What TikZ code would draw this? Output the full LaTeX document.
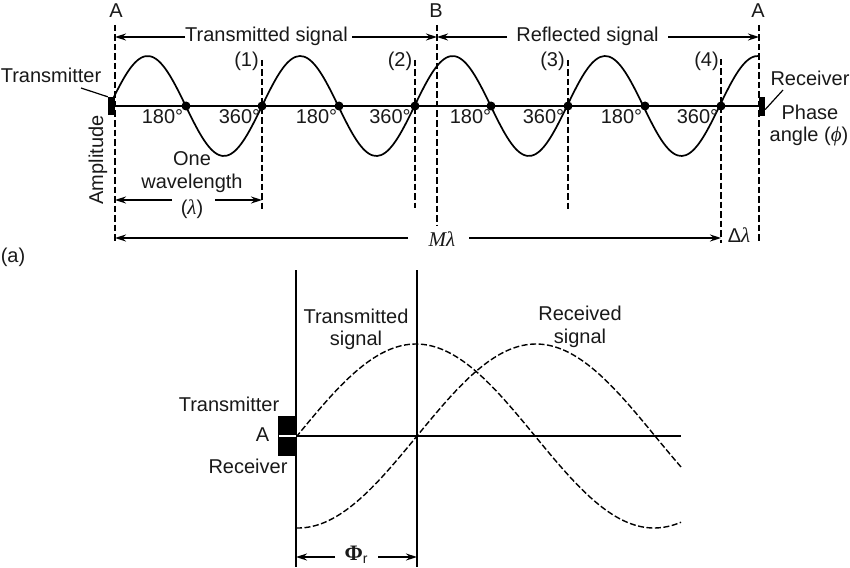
\documentclass[tikz,border=0pt]{standalone}
\usepackage{fontspec}
\setmainfont{Liberation Sans}
\newfontfamily\greekit[Scale=1.05]{Liberation Serif}
\usetikzlibrary{arrows.meta}
\newcommand{\gi}[1]{{\greekit\itshape #1}}
\tikzset{
  lbl/.style={inner sep=0pt,font=\fontsize{20}{23}\selectfont,text=black!90},
  sline/.style={line width=1.8pt,black},
  vdash/.style={line width=1.6pt,black,dash pattern=on 6.5pt off 3pt},
  wave/.style={line width=1.7pt,black,line join=round},
  dwave/.style={line width=1.4pt,black,dash pattern=on 6pt off 2.5pt},
  dim/.style={line width=1.5pt,black,-{Stealth[length=11pt,width=7pt]}},
  blk/.style={fill=black,draw=none},
  dot/.style={circle,fill=black,inner sep=0pt,minimum size=9pt}
}
\begin{document}
\begin{tikzpicture}[x=1pt,y=-1pt]
\useasboundingbox (0,0) rectangle (850,567);
% ---- upper panel ----
\coordinate (Atop) at (115,25); \coordinate (Abot) at (115,243);
\coordinate (Btop) at (437,25); \coordinate (Bbot) at (437,225);
\coordinate (Rtop) at (759,25); \coordinate (Rbot) at (759,243);
\coordinate (c1t) at (262,60); \coordinate (c1b) at (262,209);
\coordinate (c2t) at (415,60); \coordinate (c2b) at (415,208);
\coordinate (c3t) at (568,60); \coordinate (c3b) at (568,209);
\coordinate (c4t) at (721,59); \coordinate (c4b) at (721,243);
\coordinate (axL) at (115,106); \coordinate (axR) at (759,106);
\draw[sline] (axL) -- (axR);
\draw[wave] plot[domain=113:759,samples=160,smooth] (\x,{106-50*sin((\x-109.5)/152.5*360)});
\draw[vdash] (Atop) -- (Abot);
\draw[vdash] (Btop) -- (Bbot);
\draw[vdash] (Rtop) -- (Rbot);
\draw[vdash] (c1t) -- (c1b);
\draw[vdash] (c2t) -- (c2b);
\draw[vdash] (c3t) -- (c3b);
\draw[vdash] (c4t) -- (c4b);
\node[blk,minimum width=7pt,minimum height=18pt,inner sep=0pt] (txbox) at (111.5,106) {};
\node[blk,minimum width=6pt,minimum height=18pt,inner sep=0pt] (rxbox) at (762,106.5) {};
\foreach \n/\px in {d1/186,d2/262,d3/339,d4/415,d5/491,d6/568,d7/645,d8/721}
  \node[dot] (\n) at (\px,106) {};
% labels
\node[lbl] (la) at (116,11) {A};
\node[lbl] (lb) at (436,11) {B};
\node[lbl] (lc) at (758,11) {A};
\node[lbl] (tsig) at (266.5,36) {Transmitted signal};
\node[lbl] (rsig) at (587.5,36) {Reflected signal};
\node[lbl] at (246.5,61) {(1)};
\node[lbl] at (400,61) {(2)};
\node[lbl] at (552.5,61) {(3)};
\node[lbl] at (706.5,61) {(4)};
\node[lbl] (ltx) at (51,75) {Transmitter};
\node[lbl] (lrx) at (810,78) {Receiver};
\node[lbl] at (810,112) {Phase};
\node[lbl] at (809,136) {angle (\gi{ϕ})};
\foreach \px/\t in {162.5/180,239.5/360,316.5/180,390/360,470.5/180,543.5/360,621.5/180,697.5/360}
  \node[lbl] at (\px,117) {\t°};
\node[lbl,rotate=90] at (98,160) {Amplitude};
\node[lbl] at (192,159) {One};
\node[lbl] at (192,183) {wavelength};
\node[lbl] (lam) at (192,209) {(\gi{λ})};
\node[lbl] (ml) at (442,239) {\gi{Mλ}};
\node[lbl] at (739,235) {Δ\gi{λ}};
\node[lbl] at (13,257) {(a)};
% dimension arrows
\coordinate (a1) at (115,37); \coordinate (a2) at (437,37); \coordinate (a3) at (759,37);
\coordinate (w1) at (115,200); \coordinate (w2) at (262,200);
\coordinate (m1) at (115,238); \coordinate (m2) at (721,238);
\coordinate (w1e) at (172,200); \coordinate (w2e) at (215,200);
\coordinate (m1e) at (408,238); \coordinate (m2e) at (469,238);
\coordinate (r1e) at (507,37); \coordinate (r2e) at (668,37);
\coordinate (t1e) at (185,37); \coordinate (t2e) at (352,37);
\draw[dim] (t1e) -- (a1);
\draw[dim] (t2e) -- (a2);
\draw[dim] (r1e) -- (a2);
\draw[dim] (r2e) -- (a3);
\draw[dim] (w1e) -- (w1);
\draw[dim] (w2e) -- (w2);
\draw[dim] (m1e) -- (m1);
\draw[dim] (m2e) -- (m2);
% leaders
\coordinate (ltxe) at (81,88); \coordinate (lrxe) at (783,90);
\draw[line width=1.2pt] (ltxe) -- (txbox.north west);
\draw[line width=1.2pt] (lrxe) -- ([yshift=-3pt]rxbox.east);
% ---- lower panel ----
\coordinate (v1t) at (296,270); \coordinate (v1b) at (296,567);
\coordinate (v2t) at (417,270); \coordinate (v2b) at (417,567);
\coordinate (axa) at (296,436); \coordinate (axb) at (681,436);
\draw[line width=1.4pt] (v1t) -- (v1b);
\draw[line width=1.4pt] (v2t) -- (v2b);
\draw[line width=2pt] (axa) -- (axb);
\draw[dwave] plot[domain=296:681,samples=120,smooth] (\x,{436-92*sin((\x-297)/476*360)});
\draw[dwave] plot[domain=296:681,samples=120,smooth] (\x,{436-92*sin((\x-417)/476*360)});
\node[blk,minimum width=18pt,minimum height=40pt,inner sep=0pt] (box2) at (287,436) {};
\coordinate (wl1) at (279,436);
\draw[white,line width=1.4pt] (wl1) -- (axa);
\node[lbl] at (356,316) {Transmitted};
\node[lbl] at (356,340) {signal};
\node[lbl] at (580,313) {Received};
\node[lbl] at (580,338) {signal};
\node[lbl] at (229,404) {Transmitter};
\node[lbl] at (262.5,435) {A};
\node[lbl] at (248,466) {Receiver};
\node[lbl] at (356,555) {{\greekit\bfseries\fontsize{21}{21}\selectfont Φ}\raisebox{-3pt}{\fontsize{14}{14}\selectfont r}};
\coordinate (p1) at (296,557); \coordinate (p2) at (417,557);
\coordinate (p1e) at (335,557); \coordinate (p2e) at (378,557);
\draw[dim] (p1e) -- (p1);
\draw[dim] (p2e) -- (p2);
\end{tikzpicture}
\end{document}
